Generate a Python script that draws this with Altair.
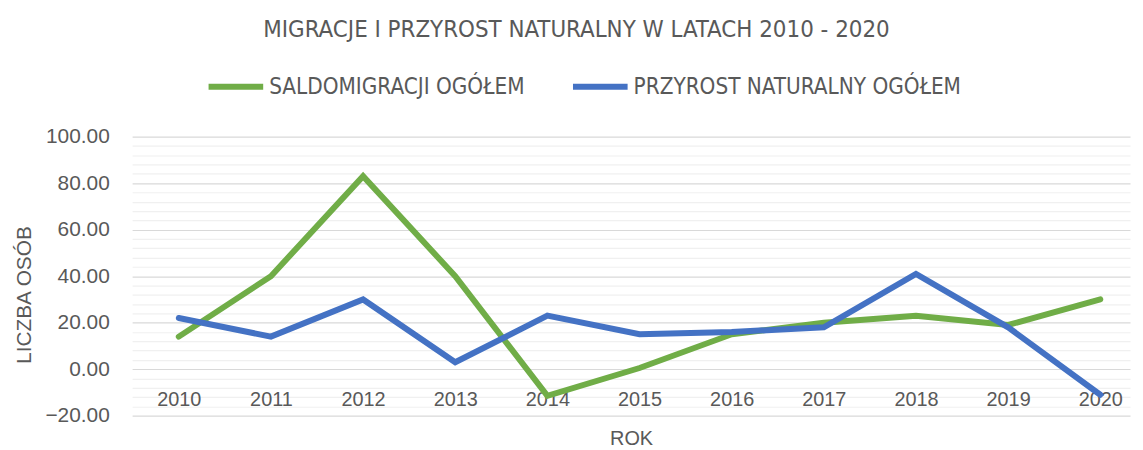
import altair as alt
import pandas as pd

years = [2010, 2011, 2012, 2013, 2014, 2015, 2016, 2017, 2018, 2019, 2020]
saldo = [14, 40, 83, 40, -11.5, 0.5, 15, 20, 23, 19, 30]
przyrost = [22, 14, 30, 3, 23, 15, 16, 18, 41, 18, -11]
series_names = ["SALDOMIGRACJI OGÓŁEM", "PRZYROST NATURALNY OGÓŁEM"]
series_colors = ["#70AD47", "#4472C4"]
y_ticks = list(range(-20, 101, 4))

rows = []
for i, y in enumerate(years):
    rows.append({"rok": y, "seria": series_names[0], "val": saldo[i], "ord": 0})
    rows.append({"rok": y, "seria": series_names[1], "val": przyrost[i], "ord": 1})
df = pd.DataFrame(rows)

FONT = "Liberation Sans Narrow, DejaVu Sans Condensed, sans-serif"
LFONT = "Liberation Sans, sans-serif"
GRAY = "#595959"

chart = alt.Chart(df).mark_line(strokeWidth=6, strokeCap="round", strokeJoin="miter").encode(
    x=alt.X("rok:Q",
            scale=alt.Scale(domain=[2009.4935, 2020.323], nice=False, zero=False),
            axis=alt.Axis(title="ROK", values=years, format="d", labelAngle=0, ticks=False, tickSize=0,
                          domain=False, grid=False,
                          offset=-46, labelPadding=20, labelFontSize=20, labelFont=LFONT,
                          labelColor=GRAY, titleFont=LFONT, titleFontSize=20, titleColor=GRAY,
                          titleFontWeight="normal", titleBaseline="middle", titleY=69)),
    y=alt.Y("val:Q", scale=alt.Scale(domain=[-20, 100], nice=False, zero=False),
            axis=alt.Axis(title="LICZBA OSÓB", values=y_ticks, ticks=False, tickSize=0, domain=False,
                          labelExpr="datum.value % 20 === 0 ? format(datum.value, '.2f') : ''",
                          labelPadding=23, labelFontSize=21, labelFont=LFONT, labelColor=GRAY,
                          gridColor={"condition": {"test": "datum.value % 20 === 0", "value": "#d9d9d9"},
                                     "value": "#f0f0f0"},
                          gridWidth=1.2,
                          titleFont=LFONT, titleFontSize=21, titleColor=GRAY, titleFontWeight="normal",
                          titleX=-108, titleY=159, titleBaseline="middle", titleAlign="center",
                          titleAngle=270)),
    color=alt.Color("seria:N", sort=series_names,
                    scale=alt.Scale(domain=series_names, range=series_colors),
                    legend=alt.Legend(title=None, orient="none", legendX=74, legendY=-81,
                                      direction="horizontal", symbolType="stroke",
                                      symbolSize=3025, symbolStrokeWidth=6,
                                      labelFont=FONT, labelFontSize=22.5, labelColor=GRAY,
                                      columnPadding=36, labelOffset=3, labelLimit=400)),
    order=alt.Order("ord:Q"),
).properties(
    width=1005, height=281,
    autosize="none",
    padding={"left": 125, "top": 128, "right": 5, "bottom": 33},
    title=alt.TitleParams("MIGRACJE I PRZYROST NATURALNY W LATACH 2010 - 2020",
                          font=FONT, fontSize=24, color=GRAY, fontWeight="normal",
                          anchor="middle", offset=14, dx=-55),
).configure_view(stroke=None)

chart.save("out.html", embed_options={"renderer": "svg", "actions": False})
